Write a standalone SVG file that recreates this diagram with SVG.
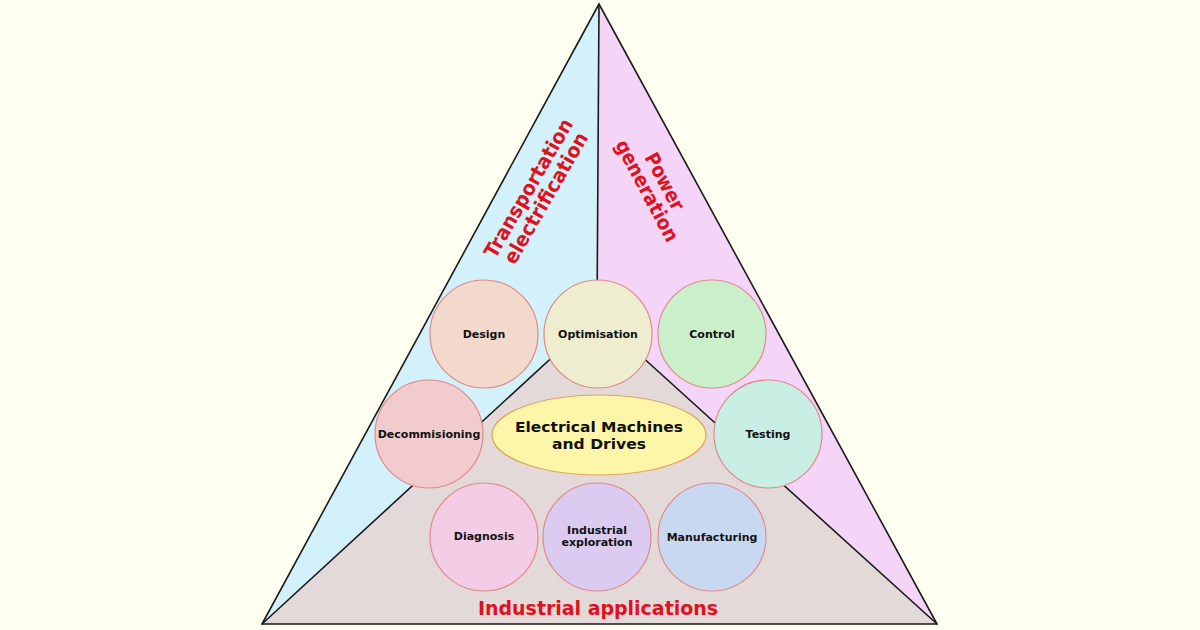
<svg xmlns="http://www.w3.org/2000/svg" width="1200" height="630" viewBox="0 0 1200 630">
<style>
.edge{stroke:#1a1a1a;stroke-width:1.6;fill:none;stroke-linejoin:miter}
.node{stroke:#e08a8a;stroke-width:1.2}
.lbl{font-family:"DejaVu Sans","Liberation Sans",sans-serif;font-weight:bold;font-size:11px;fill:#111;text-anchor:middle}
.red{font-family:"DejaVu Sans","Liberation Sans",sans-serif;font-weight:bold;fill:#e0101c;text-anchor:middle}
.big{font-family:"DejaVu Sans","Liberation Sans",sans-serif;font-weight:bold;font-size:14.5px;fill:#111;text-anchor:middle}
</style>
<rect width="1200" height="630" fill="#fefff0"/>
<g id="pyramid">
<polygon points="599,4 262,624 597,316" fill="#d3f1fb"/>
<polygon points="599,4 937,624 597,316" fill="#f4d5f8"/>
<polygon points="262,624 937,624 597,316" fill="#e4d9d9"/>
</g>
<g id="connectors">
<polygon class="edge" points="599,4 262,624 937,624"/>
<line class="edge" x1="599" y1="4" x2="597" y2="316"/>
<polyline class="edge" points="262,624 597,316 937,624"/>
</g>
<g id="label-transportation">
<text class="red" font-size="20" transform="translate(537,193) rotate(-60)"><tspan x="0" y="-3" textLength="157" lengthAdjust="spacingAndGlyphs">Transportation</tspan><tspan x="0" y="17" textLength="148" lengthAdjust="spacingAndGlyphs">electrification</tspan></text>
</g>
<g id="label-power">
<text class="red" font-size="20" transform="translate(656,186) rotate(62)"><tspan x="0" y="-3" textLength="62" lengthAdjust="spacingAndGlyphs">Power</tspan><tspan x="0" y="17" textLength="112" lengthAdjust="spacingAndGlyphs">generation</tspan></text>
</g>
<g id="label-industrial">
<text class="red" font-size="20" x="598" y="615" textLength="240" lengthAdjust="spacingAndGlyphs">Industrial applications</text>
</g>
<g id="design"><circle class="node" cx="484" cy="334" r="54" fill="#f3d8cc"/><text class="lbl" x="484" y="338">Design</text></g>
<g id="optimisation"><circle class="node" cx="598" cy="334" r="54" fill="#efedd0"/><text class="lbl" x="598" y="338">Optimisation</text></g>
<g id="control"><circle class="node" cx="712" cy="334" r="54" fill="#caf0cb"/><text class="lbl" x="712" y="338">Control</text></g>
<g id="decommisioning"><circle class="node" cx="429" cy="434" r="54" fill="#f2cccc"/><text class="lbl" x="429" y="438">Decommisioning</text></g>
<g id="testing"><circle class="node" cx="768" cy="434" r="54" fill="#c9eee3"/><text class="lbl" x="768" y="438">Testing</text></g>
<g id="diagnosis"><circle class="node" cx="484" cy="537" r="54" fill="#f3cce6"/><text class="lbl" x="484" y="540">Diagnosis</text></g>
<g id="industrial-exploration"><circle class="node" cx="597" cy="537" r="54" fill="#dbcbf0"/><text class="lbl" x="597" y="534">Industrial</text><text class="lbl" x="597" y="546">exploration</text></g>
<g id="manufacturing"><circle class="node" cx="712" cy="537" r="54" fill="#c9d8f1"/><text class="lbl" x="712" y="541">Manufacturing</text></g>
<g id="electrical-machines"><ellipse cx="599" cy="435" rx="107" ry="40" fill="#fdf6a9" stroke="#e3a35e" stroke-width="1.2"/><text class="big" x="599" y="432" textLength="168" lengthAdjust="spacingAndGlyphs">Electrical Machines</text><text class="big" x="599" y="449" textLength="94" lengthAdjust="spacingAndGlyphs">and Drives</text></g>
</svg>
